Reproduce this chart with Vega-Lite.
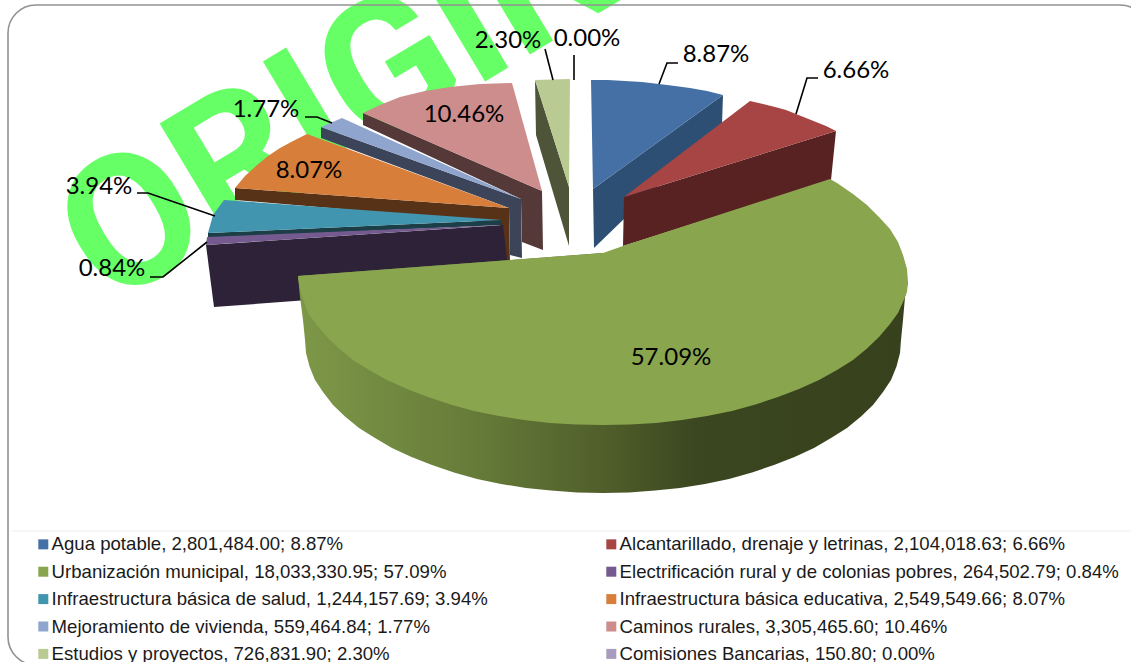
{
"$schema":"https://vega.github.io/schema/vega-lite/v6.json",
"width":1131,"height":662,"padding":0,"autosize":{"type":"none"},"background":"white",
"config":{"view":{"stroke":null}},
"datasets":{
"faces":[
{"type":"Feature","properties":{"face":"side","slice":"Agua"},"geometry":{"type":"Polygon","coordinates":[[[723,95],[722,124],[594,248],[593,189],[723,95]]]}},
{"type":"Feature","properties":{"face":"side","slice":"Alcantarillado"},"geometry":{"type":"Polygon","coordinates":[[[836,131],[831,180],[623,246],[624,197],[836,131]]]}},
{"type":"Feature","properties":{"face":"side","slice":"Estudios"},"geometry":{"type":"Polygon","coordinates":[[[535,80],[536,135],[569,246],[569,187],[535,80]]]}},
{"type":"Feature","properties":{"face":"side","slice":"Caminos"},"geometry":{"type":"Polygon","coordinates":[[[363,113],[363,125],[521,199],[522,242],[543,250],[542,191],[363,113]]]}},
{"type":"Feature","properties":{"face":"side","slice":"Mejoramiento"},"geometry":{"type":"Polygon","coordinates":[[[321,127],[321,138],[509,208],[510,255],[522,258],[521,199],[321,127]]]}},
{"type":"Feature","properties":{"face":"side","slice":"Educativa"},"geometry":{"type":"Polygon","coordinates":[[[235,188],[235,200],[400,214],[500,224],[503,262],[510,262],[509,208],[235,188]]]}},
{"type":"Feature","properties":{"face":"side","slice":"Salud"},"geometry":{"type":"Polygon","coordinates":[[[208,233],[208,238],[502,225],[502,220],[208,233]]]}},
{"type":"Feature","properties":{"face":"side","slice":"Electrificacion"},"geometry":{"type":"Polygon","coordinates":[[[206,245],[214,307],[510,285],[503,225],[206,245]]]}},
{"type":"Feature","properties":{"face":"top","label":"Agua potable, 2,801,484.00; 8.87%"},"geometry":{"type":"Polygon","coordinates":[[[591,80],[608,80],[625,81],[642,82],[659,84],[675,86],[690,88],[707,91],[723,95],[593,189],[591,80]]]}},
{"type":"Feature","properties":{"face":"top","label":"Alcantarillado, drenaje y letrinas, 2,104,018.63; 6.66%"},"geometry":{"type":"Polygon","coordinates":[[[750,101],[763,104],[775,107],[786,110],[796,114],[806,118],[816,122],[826,126],[836,131],[624,197],[750,101]]]}},
{"type":"Feature","properties":{"face":"top","label":"Estudios y proyectos, 726,831.90; 2.30%"},"geometry":{"type":"Polygon","coordinates":[[[535,80],[570,79],[569,187],[535,80]]]}},
{"type":"Feature","properties":{"face":"top","label":"Caminos rurales, 3,305,465.60; 10.46%"},"geometry":{"type":"Polygon","coordinates":[[[363,113],[380,105],[400,97],[425,91],[450,87],[480,84],[512,83],[542,191],[363,113]]]}},
{"type":"Feature","properties":{"face":"top","label":"Mejoramiento de vivienda, 559,464.84; 1.77%"},"geometry":{"type":"Polygon","coordinates":[[[321,127],[342,118],[521,199],[321,127]]]}},
{"type":"Feature","properties":{"face":"top","label":"Infraestructura básica educativa, 2,549,549.66; 8.07%"},"geometry":{"type":"Polygon","coordinates":[[[235,188],[245,176],[257,165],[268,156],[280,148],[293,141],[307,134],[509,208],[235,188]]]}},
{"type":"Feature","properties":{"face":"top","label":"Infraestructura básica de salud, 1,244,157.69; 3.94%"},"geometry":{"type":"Polygon","coordinates":[[[224,200],[213,215],[208,233],[502,220],[224,200]]]}},
{"type":"Feature","properties":{"face":"top","label":"Electrificación rural y de colonias pobres, 264,502.79; 0.84%"},"geometry":{"type":"Polygon","coordinates":[[[207,237],[206,245],[502,225],[207,237]]]}},
{"type":"Feature","properties":{"face":"greenside"},"geometry":{"type":"Polygon","coordinates":[[[298,276],[300,297],[303,320],[305,340],[306,353],[309.5,366.5],[315,380],[323,392],[333,405],[345,416.5],[359,428],[375,438],[392,448],[411.5,457],[432,465],[454,472.5],[477,479],[501,484],[526,488],[551,490.5],[577,492.5],[603,493],[629,492.5],[655,490.5],[680,488],[705,484],[729,479],[752,472.5],[774,465],[794.5,457],[814,448],[831,438],[847,428],[861,416.5],[873,405],[883,392],[891,380],[896.5,366.5],[900,353],[901,340],[903,320],[905,297],[908,282],[603,253],[298,276]]]}},
{"type":"Feature","properties":{"face":"greentop","label":"Urbanización municipal, 18,033,330.95; 57.09%"},"geometry":{"type":"Polygon","coordinates":[[[830,179],[837,183],[853,194],[867,205],[879,217],[890,229],[898,242],[903,255],[907,269],[908,282],[907,292],[903,302],[898,313],[890,324],[879,337],[867,348.5],[853,360],[837,370],[819,380],[799,389],[778,397],[755.5,404.5],[732,411],[707,416],[682,420],[656,423],[630,424.5],[603,425],[576,424.5],[550,423],[524,420],[499,416],[474,411],[450.5,404.5],[428,397],[407,389],[387,380],[369,370],[353,360],[339,348.5],[327,337],[316,324],[308,313],[303,299],[299.5,288],[298,276],[510,260],[603,253],[623,246],[830,179]]]}}
],
"leaders":[
{"leader":"8.87%","seq":0,"x":659,"y":84},{"leader":"8.87%","seq":1,"x":667,"y":63},{"leader":"8.87%","seq":2,"x":678,"y":63},
{"leader":"6.66%","seq":0,"x":796,"y":114},{"leader":"6.66%","seq":1,"x":807,"y":78},{"leader":"6.66%","seq":2,"x":818,"y":78},
{"leader":"2.30%","seq":0,"x":545,"y":49},{"leader":"2.30%","seq":1,"x":553,"y":80},
{"leader":"0.00%","seq":0,"x":574,"y":55},{"leader":"0.00%","seq":1,"x":574,"y":80},
{"leader":"1.77%","seq":0,"x":305,"y":117},{"leader":"1.77%","seq":1,"x":317,"y":117},{"leader":"1.77%","seq":2,"x":332,"y":123},
{"leader":"3.94%","seq":0,"x":137,"y":193},{"leader":"3.94%","seq":1,"x":148,"y":193},{"leader":"3.94%","seq":2,"x":215,"y":216},
{"leader":"0.84%","seq":0,"x":150,"y":277},{"leader":"0.84%","seq":1,"x":163,"y":277},{"leader":"0.84%","seq":2,"x":207,"y":242}
],
"labels":[
{"pct":"8.87%","x":716,"y":55},{"pct":"6.66%","x":856,"y":71},{"pct":"57.09%","x":671,"y":358},{"pct":"10.46%","x":464,"y":115},
{"pct":"8.07%","x":309,"y":171},{"pct":"1.77%","x":266,"y":110},{"pct":"3.94%","x":99,"y":187},{"pct":"0.84%","x":112,"y":269},
{"pct":"2.30%","x":508,"y":41},{"pct":"0.00%","x":587,"y":39}
]
},
"layer":[
{"data":{"values":[{"t":"ORIGINAL","x":108,"y":308}]},
 "mark":{"type":"text","font":"Roboto","fontWeight":"bold","fontSize":185,"angle":-31,"align":"left","baseline":"alphabetic","color":"#66FF66"},
 "encoding":{"x":{"field":"x","type":"quantitative","scale":{"domain":[0,1131],"nice":false,"zero":false},"axis":null},"y":{"field":"y","type":"quantitative","scale":{"domain":[662,0],"nice":false,"zero":false},"axis":null},"text":{"field":"t"}}},
{"data":{"values":[{"x":8,"x2":1148,"y":5,"y2":665}]},
 "mark":{"type":"rect","cornerRadius":28,"fillOpacity":0,"stroke":"#929292","strokeWidth":1.6},
 "encoding":{"x":{"field":"x","type":"quantitative"},"x2":{"field":"x2"},"y":{"field":"y","type":"quantitative"},"y2":{"field":"y2"}}},
{"data":{"values":[{"x":12,"x2":1131,"y":531}]},
 "mark":{"type":"rule","color":"#eeeeee","strokeWidth":1},
 "encoding":{"x":{"field":"x","type":"quantitative"},"x2":{"field":"x2"},"y":{"field":"y","type":"quantitative"}}},
{"data":{"name":"faces"},"transform":[{"filter":"datum.properties.face==='side'"}],
 "projection":{"type":"identity","scale":1,"translate":[0,0]},
 "mark":{"type":"geoshape"},
 "encoding":{"color":{"field":"properties.slice","type":"nominal","legend":null,
  "scale":{"domain":["Agua","Alcantarillado","Estudios","Caminos","Mejoramiento","Educativa","Salud","Electrificacion"],"range":["#2D4F74","#582222","#4D5438","#553838","#3C4459","#583217","#1C3E46","#2D2238"]}}}},
{"data":{"name":"faces"},"transform":[{"filter":"datum.properties.face==='top'"}],
 "projection":{"type":"identity","scale":1,"translate":[0,0]},
 "mark":{"type":"geoshape"},
 "encoding":{"fill":{"field":"properties.label","type":"nominal",
  "scale":{"domain":["Agua potable, 2,801,484.00; 8.87%","Alcantarillado, drenaje y letrinas, 2,104,018.63; 6.66%","Urbanización municipal, 18,033,330.95; 57.09%","Electrificación rural y de colonias pobres, 264,502.79; 0.84%","Infraestructura básica de salud, 1,244,157.69; 3.94%","Infraestructura básica educativa, 2,549,549.66; 8.07%","Mejoramiento de vivienda, 559,464.84; 1.77%","Caminos rurales, 3,305,465.60; 10.46%","Estudios y proyectos, 726,831.90; 2.30%","Comisiones Bancarias, 150.80; 0.00%"],
  "range":["#4570A5","#A64543","#89A54E","#745A8E","#4195AF","#D77F3A","#8FA5CE","#CC8D8C","#BACA93","#A99BBD"]},
  "legend":{"orient":"none","direction":"horizontal","legendX":34,"legendY":535,"title":null,"columns":2,"columnPadding":114,"rowPadding":8.4,"symbolType":"square","symbolSize":100,"symbolStrokeWidth":0,"labelFont":"Liberation Sans","labelFontSize":18.6,"labelColor":"#1a1a1a","labelLimit":600,"labelOffset":-1}}}},
{"data":{"name":"faces"},"transform":[{"filter":"datum.properties.face==='greenside'"}],
 "projection":{"type":"identity","scale":1,"translate":[0,0]},
 "mark":{"type":"geoshape","fill":{"gradient":"linear","x1":0,"x2":1,"y1":0,"y2":0,"stops":[{"offset":0,"color":"#7E9848"},{"offset":0.3,"color":"#657A38"},{"offset":0.5,"color":"#505F2B"},{"offset":0.65,"color":"#3B4720"},{"offset":1,"color":"#37411D"}]}},
 "encoding":{}},
{"data":{"name":"faces"},"transform":[{"filter":"datum.properties.face==='greentop'"}],
 "projection":{"type":"identity","scale":1,"translate":[0,0]},
 "mark":{"type":"geoshape"},
 "encoding":{"fill":{"field":"properties.label","type":"nominal",
  "scale":{"domain":["Agua potable, 2,801,484.00; 8.87%","Alcantarillado, drenaje y letrinas, 2,104,018.63; 6.66%","Urbanización municipal, 18,033,330.95; 57.09%","Electrificación rural y de colonias pobres, 264,502.79; 0.84%","Infraestructura básica de salud, 1,244,157.69; 3.94%","Infraestructura básica educativa, 2,549,549.66; 8.07%","Mejoramiento de vivienda, 559,464.84; 1.77%","Caminos rurales, 3,305,465.60; 10.46%","Estudios y proyectos, 726,831.90; 2.30%","Comisiones Bancarias, 150.80; 0.00%"],
  "range":["#4570A5","#A64543","#89A54E","#745A8E","#4195AF","#D77F3A","#8FA5CE","#CC8D8C","#BACA93","#A99BBD"]},
  "legend":{"orient":"none","direction":"horizontal","legendX":34,"legendY":535,"title":null,"columns":2,"columnPadding":114,"rowPadding":8.4,"symbolType":"square","symbolSize":100,"symbolStrokeWidth":0,"labelFont":"Liberation Sans","labelFontSize":18.6,"labelColor":"#1a1a1a","labelLimit":600,"labelOffset":-1}}}},
{"data":{"name":"leaders"},
 "mark":{"type":"line","color":"#000000","strokeWidth":1.6,"interpolate":"linear"},
 "encoding":{"x":{"field":"x","type":"quantitative"},"y":{"field":"y","type":"quantitative"},"detail":{"field":"leader"},"order":{"field":"seq"}}},
{"data":{"name":"labels"},
 "mark":{"type":"text","font":"Lato","fontSize":24,"color":"#000000","align":"center","baseline":"middle"},
 "encoding":{"x":{"field":"x","type":"quantitative"},"y":{"field":"y","type":"quantitative"},"text":{"field":"pct"}}}
]
}
